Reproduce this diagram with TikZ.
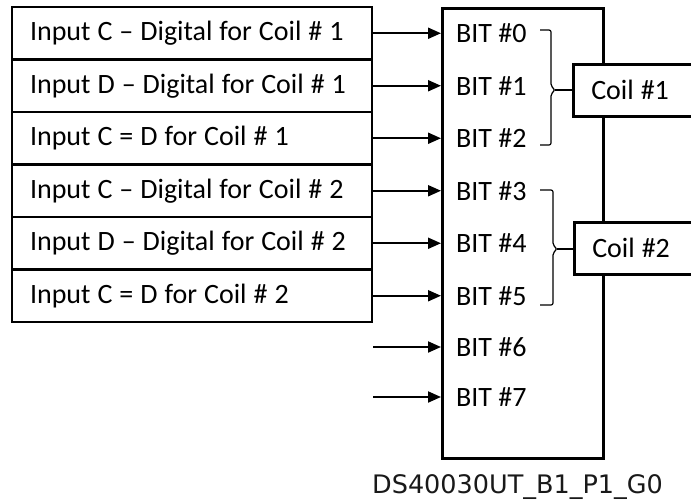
\documentclass[tikz,border=0pt]{standalone}
\usepackage{fontspec}
\setmainfont{Carlito}
\newfontfamily\tagfont{DejaVu Sans}
\usetikzlibrary{positioning, arrows.meta, calc}

\begin{document}
\begin{tikzpicture}[x=1pt, y=-1pt, font=\fontsize{28}{30}\selectfont,
		inbox/.style = {draw, line width=2.5pt, outer sep=0pt, anchor=north west,
			text width=324pt, inner xsep=18pt, minimum height=52.5pt,
			execute at begin node={\spaceskip=0.25em\xspaceskip=0.25em\relax}},
		bit/.style = {anchor=west, inner sep=0pt},
		feed/.style = {line width=2pt, -{Triangle[length=13pt, width=11pt]}},
		brace/.style = {line width=1.2pt, rounded corners=2pt},
		coilbox/.style = {draw, fill=white, line width=2.5pt, anchor=north west,
			minimum height=52pt, text width=104pt, inner xsep=18pt,
			execute at begin node={\spaceskip=0.25em\relax}}]
		\def\bx{456};
		
		\useasboundingbox (0,0) rectangle (691,501);
		
		% register
		\node [draw, line width=2.5pt, anchor=north west, minimum width=161pt, minimum height=450pt] (reg) at (441,7) {};
		
		% inputs
		\node [inbox] (in1) at (12,7) {Input C -- Digital for Coil \# 1};
		\node [inbox, below=0pt of in1] (in2) {Input D -- Digital for Coil \# 1};
		\node [inbox, below=0pt of in2] (in3) {Input C = D for Coil \# 1};
		\node [inbox, below=0pt of in3] (in4) {Input C -- Digital for Coil \# 2};
		\node [inbox, below=0pt of in4] (in5) {Input D -- Digital for Coil \# 2};
		\node [inbox, below=0pt of in5] (in6) {Input C = D for Coil \# 2};
		
		% bits
		\node [bit] (b0) at (\bx,0 |- in1.east) {BIT \#0};
		\node [bit] (b1) at (\bx,0 |- in2.east) {BIT \#1};
		\node [bit] (b2) at (\bx,0 |- in3.east) {BIT \#2};
		\node [bit] (b3) at (\bx,0 |- in4.east) {BIT \#3};
		\node [bit] (b4) at (\bx,0 |- in5.east) {BIT \#4};
		\node [bit] (b5) at (\bx,0 |- in6.east) {BIT \#5};
		\node [bit] (b6) at (\bx,347) {BIT \#6};
		\node [bit] (b7) at (\bx,397) {BIT \#7};
		
		\coordinate (f6) at (373,347);
		\coordinate (f7) at (373,397);
		
		\begin{scope}[feed]
			\draw (in1.east) -- (b0 -| reg.west);
			\draw (in2.east) -- (b1 -| reg.west);
			\draw (in3.east) -- (b2 -| reg.west);
			\draw (in4.east) -- (b3 -| reg.west);
			\draw (in5.east) -- (b4 -| reg.west);
			\draw (in6.east) -- (b5 -| reg.west);
			\draw (f6) -- (b6 -| reg.west);
			\draw (f7) -- (b7 -| reg.west);
		\end{scope}
		
		% coils
		\node [coilbox] (c1) at (572,63) {Coil \#1};
		\node [coilbox] (c2) at (573,221) {Coil \#2};
		
		\begin{scope}[brace]
			\draw (540,30) -- (551,30) -- (551,86) -- (555,90) -- (551,94) -- (551,145) -- (540,145);
			\draw (555,90) -- (c1.west |- 0,90);
			\draw (540,190) -- (553,190) -- (553,245) -- (557,249) -- (553,253) -- (553,305) -- (540,305);
			\draw (557,249) -- (c2.west |- 0,249);
		\end{scope}
		
		\node [anchor=base west, inner sep=0pt, text=black!90, font=\tagfont\fontsize{25.5}{28}\selectfont] (tag) at (372,493) {DS40030UT\_B1\_P1\_G0};
	\end{tikzpicture}
\end{document}
